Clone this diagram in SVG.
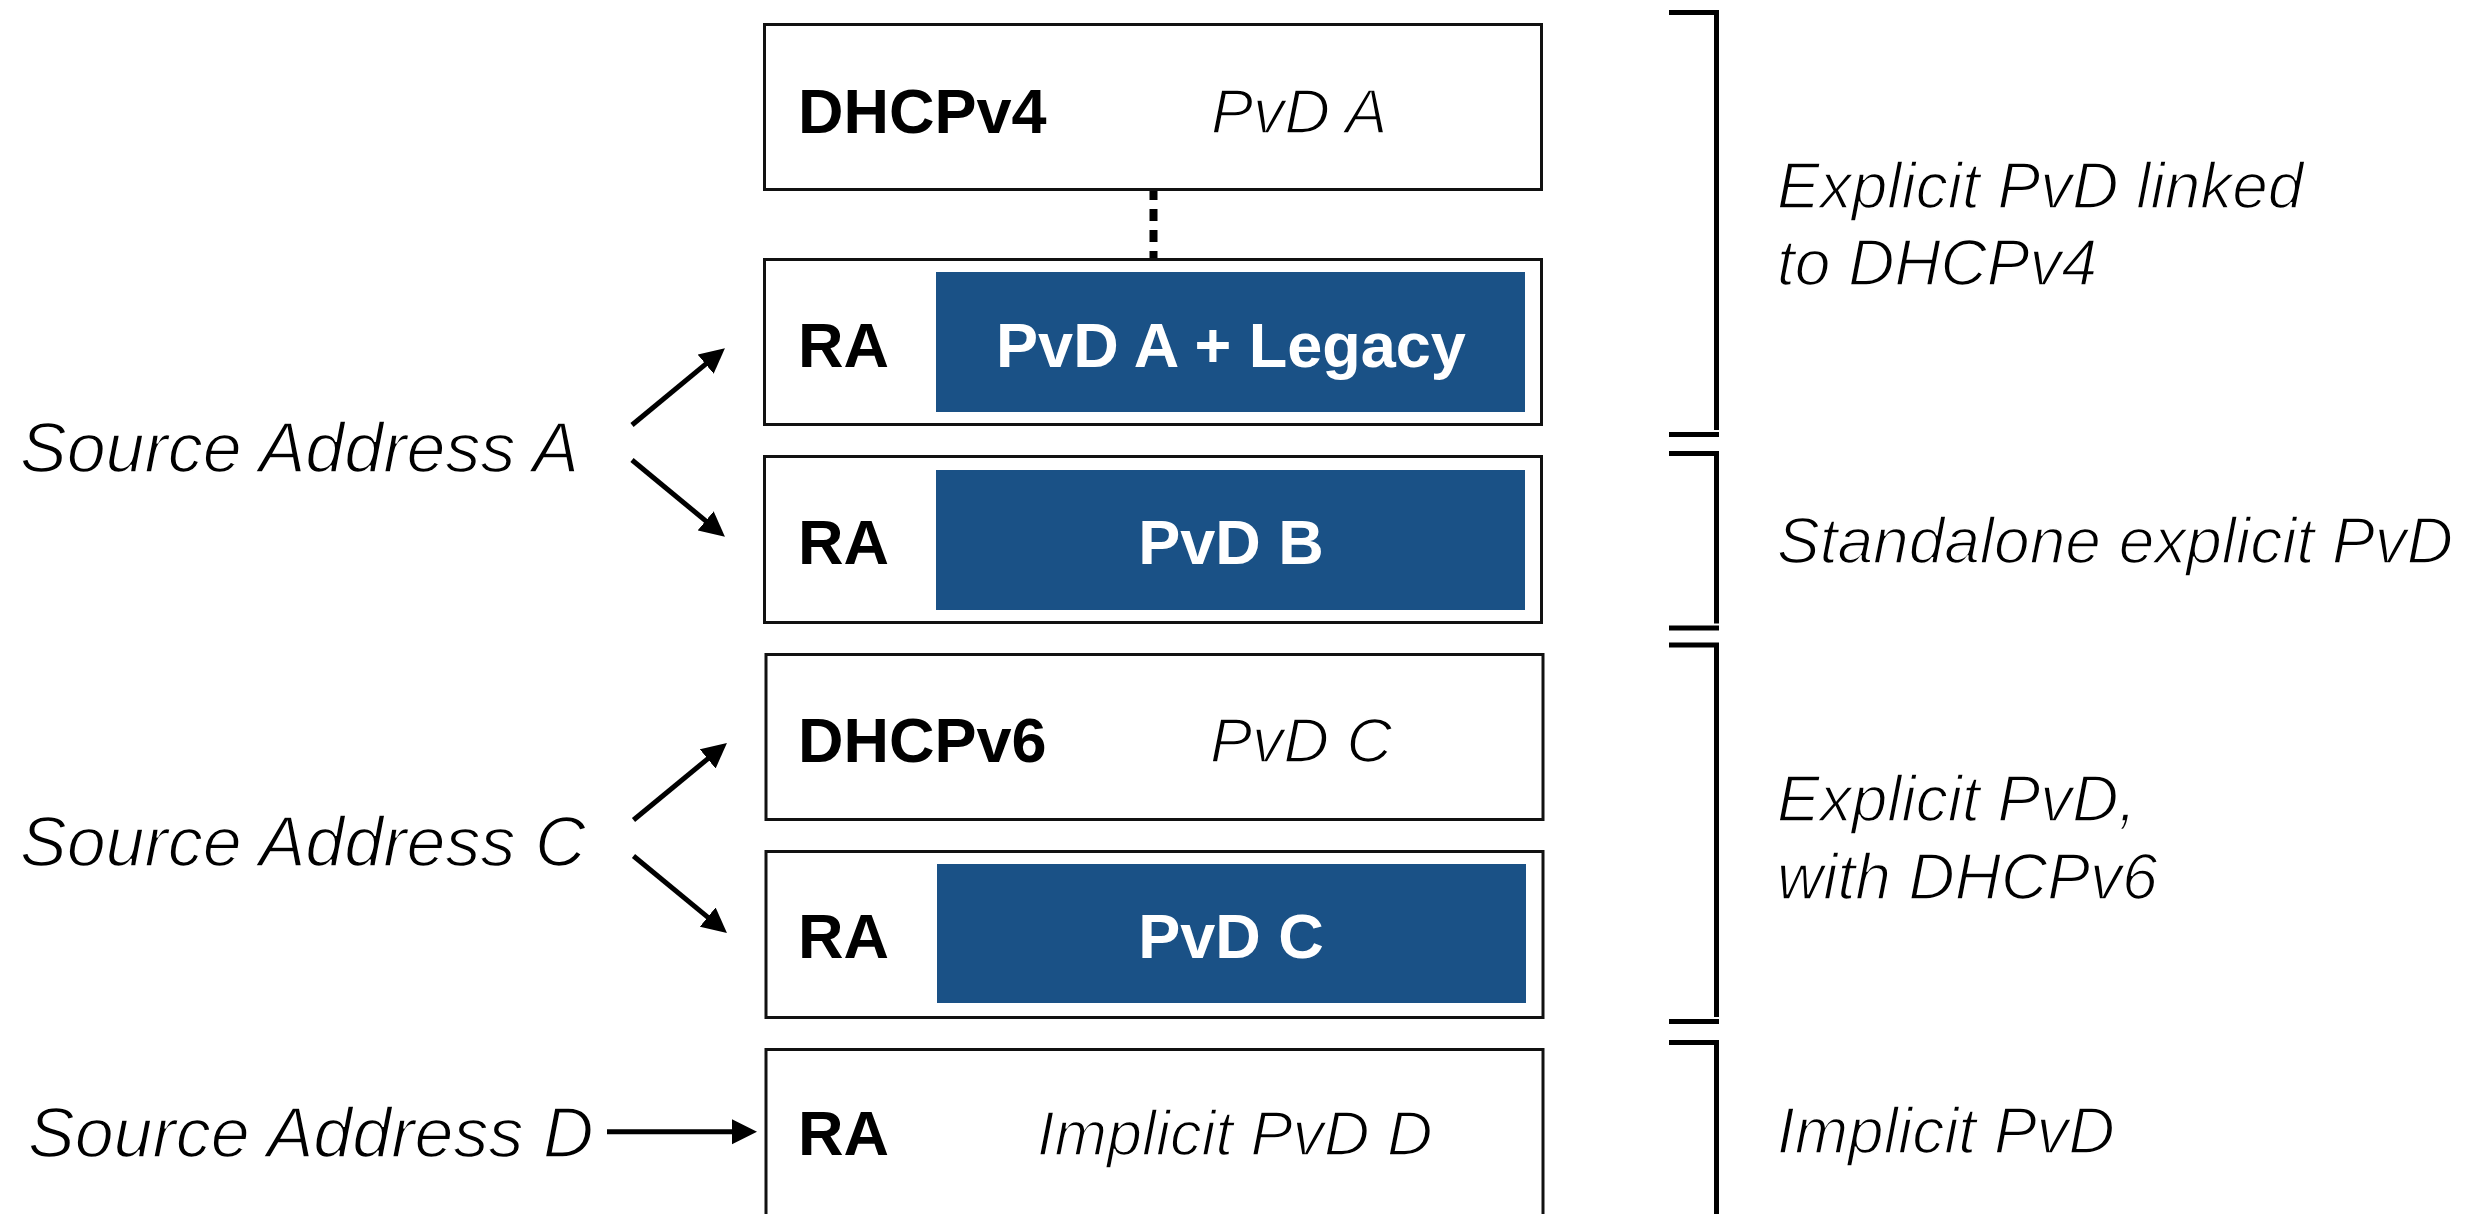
<svg xmlns="http://www.w3.org/2000/svg" width="2487" height="1214" viewBox="0 0 2487 1214">
  <style>
    .box { fill: #ffffff; stroke: #111111; stroke-width: 3; }
    .pvd { fill: #1a5186; }
    .lbl { font-family: "Liberation Sans", Arial, sans-serif; font-weight: bold; font-size: 63px; fill: #000000; }
    .inv { font-family: "Liberation Sans", Arial, sans-serif; font-weight: bold; font-size: 63px; fill: #ffffff; text-anchor: middle; }
    /* light italic look: a thin white outline trims the regular glyphs */
    .it, .src, .cap { font-family: "Liberation Sans", Arial, sans-serif; font-style: italic; fill: #000000; stroke: #ffffff; stroke-width: 1.6; paint-order: normal; }
    .it { font-size: 63px; }
    .cap { font-size: 64px; }
    .src { font-size: 70px; }
    .arrow { stroke: #000000; stroke-width: 5; fill: none; marker-end: url(#head); }
    .link { stroke: #000000; stroke-width: 8; fill: none; stroke-dasharray: 12 9; stroke-dashoffset: 3; }
    .brace { stroke: #000000; stroke-width: 5; fill: none; stroke-linejoin: miter; }
  </style>
  <defs>
    <marker id="head" markerUnits="userSpaceOnUse" viewBox="0 -13 26 26" markerWidth="26" markerHeight="26" refX="2" refY="0" orient="auto">
      <path d="M0,-12.5 L25,0 L0,12.5 Z" fill="#000000"/>
    </marker>
  </defs>

  <rect width="2487" height="1214" fill="#ffffff"/>

  <!-- connectors -->
  <g id="connectors">
    <line class="link" x1="1153.5" y1="191" x2="1153.5" y2="258"/>
    <line class="arrow" x1="632" y1="425" x2="707.2" y2="362.9"/>
    <line class="arrow" x1="632" y1="460" x2="707.2" y2="522.1"/>
    <line class="arrow" x1="633.5" y1="820" x2="709.2" y2="757.6"/>
    <line class="arrow" x1="633.5" y1="856" x2="709.2" y2="918.4"/>
    <line class="arrow" x1="607" y1="1131.7" x2="734" y2="1131.7"/>
  </g>

  <!-- option blocks -->
  <g id="dhcpv4">
    <rect class="box" x="764.5" y="24.5" width="777" height="165"/>
    <text class="lbl" x="798" y="133">DHCPv4</text>
    <text class="it" x="1211" y="133">PvD A</text>
  </g>
  <g id="ra-a">
    <rect class="box" x="764.5" y="259.5" width="777" height="165"/>
    <rect class="pvd" x="936" y="272" width="589" height="140"/>
    <text class="lbl" x="798" y="367">RA</text>
    <text class="inv" x="1231" y="367">PvD A + Legacy</text>
  </g>
  <g id="ra-b">
    <rect class="box" x="764.5" y="456.5" width="777" height="166"/>
    <rect class="pvd" x="936" y="470" width="589" height="140"/>
    <text class="lbl" x="798" y="564">RA</text>
    <text class="inv" x="1231" y="564">PvD B</text>
  </g>
  <g id="dhcpv6">
    <rect class="box" x="766" y="654.5" width="777" height="165"/>
    <text class="lbl" x="798" y="762">DHCPv6</text>
    <text class="it" x="1210" y="762">PvD C</text>
  </g>
  <g id="ra-c">
    <rect class="box" x="766" y="851.5" width="777" height="166"/>
    <rect class="pvd" x="937" y="864" width="589" height="139"/>
    <text class="lbl" x="798" y="958">RA</text>
    <text class="inv" x="1231" y="958">PvD C</text>
  </g>
  <g id="ra-d">
    <rect class="box" x="766" y="1049.5" width="777" height="200"/>
    <text class="lbl" x="798" y="1155">RA</text>
    <text class="it" x="1037" y="1155">Implicit PvD D</text>
  </g>

  <!-- source addresses -->
  <g id="source-a">
    <text class="src" x="20" y="472">Source Address A</text>
  </g>
  <g id="source-c">
    <text class="src" x="20" y="866">Source Address C</text>
  </g>
  <g id="source-d">
    <text class="src" x="28" y="1157">Source Address D</text>
  </g>

  <!-- group brackets and captions -->
  <g id="group-linked">
    <path class="brace" d="M1669,12.5 H1716.5 V430 M1669,434.5 H1719"/>
    <text class="cap" x="1777" y="208">Explicit PvD linked</text>
    <text class="cap" x="1777" y="285">to DHCPv4</text>
  </g>
  <g id="group-standalone">
    <path class="brace" d="M1669,453.5 H1716.5 V623.5 M1669,628 H1719"/>
    <text class="cap" x="1777" y="563">Standalone explicit PvD</text>
  </g>
  <g id="group-dhcpv6">
    <path class="brace" d="M1669,645 H1716.5 V1017 M1669,1021.5 H1719"/>
    <text class="cap" x="1777" y="821">Explicit PvD,</text>
    <text class="cap" x="1777" y="899">with DHCPv6</text>
  </g>
  <g id="group-implicit">
    <path class="brace" d="M1669,1042.5 H1716.5 V1220"/>
    <text class="cap" x="1777" y="1153">Implicit PvD</text>
  </g>
</svg>
